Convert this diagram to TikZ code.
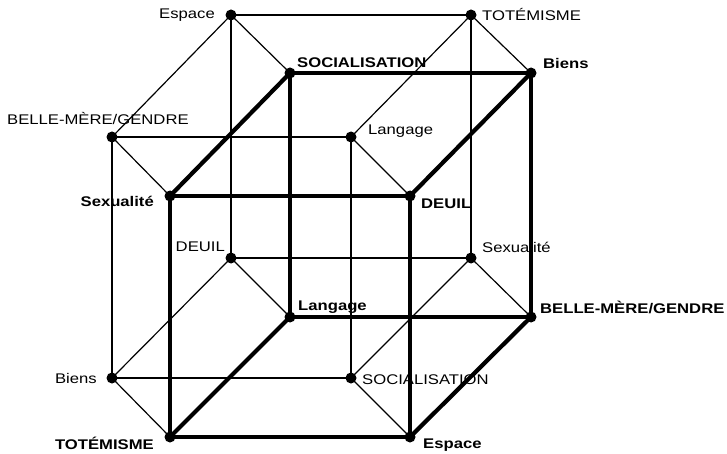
\documentclass[tikz,border=0pt]{standalone}
\usepackage{fontspec}
\newfontfamily\labfont[FakeStretch=1.19]{Liberation Sans}
\usetikzlibrary{backgrounds}
\begin{document}
\begin{tikzpicture}[x=1pt,y=-1pt,
  dot/.style={circle,fill=black,inner sep=0pt,minimum size=11pt},
  thinedge/.style={line width=1.2pt},
  thickedge/.style={line width=4.2pt},
  lab/.style={font=\labfont\fontsize{14}{16}\selectfont,inner sep=0pt},
  blab/.style={font=\labfont\bfseries\fontsize{14}{16}\selectfont,inner sep=0pt}]
\useasboundingbox (0,0) rectangle (727,454);
% thin cube
\node[dot] (es1) at (231,15) {};
\node[dot] (to1) at (471,15) {};
\node[dot] (bm1) at (112,137) {};
\node[dot] (la1) at (351,137) {};
\node[dot] (de1) at (231,258) {};
\node[dot] (se1) at (471,258) {};
\node[dot] (bi1) at (112,378) {};
\node[dot] (so1) at (351,378) {};
% thick cube
\node[dot] (so2) at (290,73) {};
\node[dot] (bi2) at (531,73) {};
\node[dot] (se2) at (170,196) {};
\node[dot] (de2) at (410,196) {};
\node[dot] (la2) at (290,317) {};
\node[dot] (bm2) at (531,317) {};
\node[dot] (to2) at (170,437) {};
\node[dot] (es2) at (410,437) {};
% labels
\node[lab,anchor=base east] (tes1) at (215,19) {Espace};
\node[lab,anchor=base west] (tto1) at (482,20.5) {TOTÉMISME};
\node[lab,anchor=base west] (tbm1) at (7,125) {BELLE-MÈRE/GENDRE};
\node[lab,anchor=base west] (tla1) at (368,134.5) {Langage};
\node[lab,anchor=base east] (tde1) at (225,251.5) {DEUIL};
\node[lab,anchor=base west] (tse1) at (482,252) {Sexualité};
\node[lab,anchor=base east] (tbi1) at (97,383) {Biens};
\node[lab,anchor=base west] (tso1) at (362,384) {SOCIALISATION};
\node[blab,anchor=base west] (tso2) at (297,67.5) {SOCIALISATION};
\node[blab,anchor=base west] (tbi2) at (543,69) {Biens};
\node[blab,anchor=base east] (tse2) at (154,207) {Sexualité};
\node[blab,anchor=base west] (tde2) at (421,208) {DEUIL};
\node[blab,anchor=base west] (tla2) at (298,310) {Langage};
\node[blab,anchor=base west] (tbm2) at (540,313) {BELLE-MÈRE/GENDRE};
\node[blab,anchor=base east] (tto2) at (154,449) {TOTÉMISME};
\node[blab,anchor=base west] (tes2) at (423,448) {Espace};
\begin{scope}[on background layer]
\fill[white] (0,0) rectangle (727,454);
% thin cube edges
\draw[thinedge] (es1.center) -- (to1.center);
\draw[thinedge] (es1.center) -- (bm1.center);
\draw[thinedge] (es1.center) -- (de1.center);
\draw[thinedge] (to1.center) -- (la1.center);
\draw[thinedge] (to1.center) -- (se1.center);
\draw[thinedge] (bm1.center) -- (la1.center);
\draw[thinedge] (bm1.center) -- (bi1.center);
\draw[thinedge] (la1.center) -- (so1.center);
\draw[thinedge] (de1.center) -- (se1.center);
\draw[thinedge] (de1.center) -- (bi1.center);
\draw[thinedge] (se1.center) -- (so1.center);
\draw[thinedge] (bi1.center) -- (so1.center);
% connecting edges
\draw[thinedge] (es1.center) -- (so2.center);
\draw[thinedge] (to1.center) -- (bi2.center);
\draw[thinedge] (bm1.center) -- (se2.center);
\draw[thinedge] (la1.center) -- (de2.center);
\draw[thinedge] (de1.center) -- (la2.center);
\draw[thinedge] (se1.center) -- (bm2.center);
\draw[thinedge] (bi1.center) -- (to2.center);
\draw[thinedge] (so1.center) -- (es2.center);
% thick cube edges
\draw[thickedge] (so2.center) -- (bi2.center);
\draw[thickedge] (so2.center) -- (se2.center);
\draw[thickedge] (so2.center) -- (la2.center);
\draw[thickedge] (bi2.center) -- (de2.center);
\draw[thickedge] (bi2.center) -- (bm2.center);
\draw[thickedge] (se2.center) -- (de2.center);
\draw[thickedge] (se2.center) -- (to2.center);
\draw[thickedge] (de2.center) -- (es2.center);
\draw[thickedge] (la2.center) -- (bm2.center);
\draw[thickedge] (la2.center) -- (to2.center);
\draw[thickedge] (bm2.center) -- (es2.center);
\draw[thickedge] (to2.center) -- (es2.center);
\end{scope}
\end{tikzpicture}
\end{document}
